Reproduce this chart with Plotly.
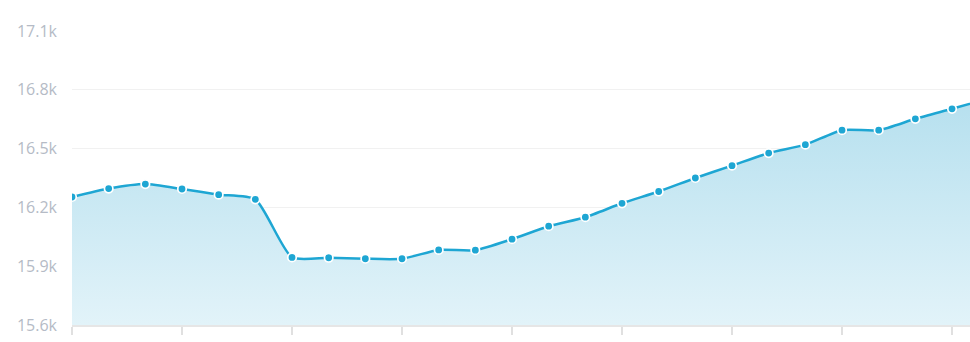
import plotly.graph_objects as go

# Data
periods = list(range(26))
values = [16253, 16296, 16319, 16294, 16265, 16241, 15945, 15943, 15938, 15938,
          15983, 15982, 16038, 16104, 16150, 16221, 16281, 16350, 16413,
          16477, 16520, 16594, 16594, 16652, 16703, 16755]
y_ticks = [15600, 15900, 16200, 16500, 16800, 17100]
y_tick_labels = ["15.6k", "15.9k", "16.2k", "16.5k", "16.8k", "17.1k"]
x_ticks = [0, 3, 6, 9, 12, 15, 18, 21, 24]

line_color = "#1ea6d3"

fig = go.Figure()
fig.add_trace(go.Scatter(
    x=periods, y=values,
    mode="lines+markers",
    line=dict(color=line_color, width=2.5, shape="spline", smoothing=0.6),
    marker=dict(size=8.5, color=line_color, line=dict(color="white", width=1.7)),
    fill="tozeroy",
    fillgradient=dict(type="vertical", start=15600, stop=16800,
                      colorscale=[[0, "#e2f3f9"], [1, "#b4dfee"]]),
    hoverinfo="skip",
    showlegend=False,
))

fig.update_layout(
    width=970, height=342,
    margin=dict(l=72, r=0, t=31, b=17),
    paper_bgcolor="white", plot_bgcolor="white",
    font=dict(family="Open Sans, Lato, sans-serif", size=16, color="#b5bbc6"),
    xaxis=dict(range=[0, 24.49], tickvals=x_ticks, showticklabels=False,
               ticks="outside", ticklen=8, tickwidth=1.5, tickcolor="#e0e0e0",
               showgrid=False, zeroline=False, showline=True,
               linecolor="#e6e6e6", linewidth=2, fixedrange=True),
    yaxis=dict(range=[15600, 17100], tickvals=y_ticks, ticktext=y_tick_labels,
               showgrid=True, gridcolor="#f1f1f1", gridwidth=1, zeroline=False,
               showline=False, ticks="", ticklabelstandoff=14, fixedrange=True),
)

fig.write_html("out.html")
